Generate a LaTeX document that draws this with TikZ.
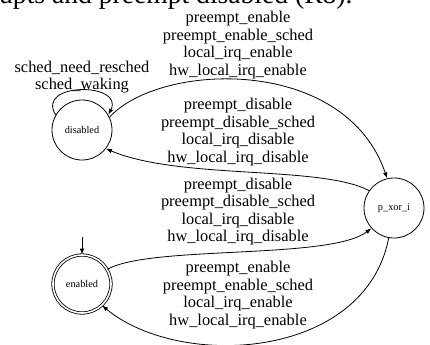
\documentclass[tikz,border=0pt]{standalone}
\usepackage{fontspec}
\setmainfont{Liberation Serif}
\usetikzlibrary{arrows.meta}
\begin{document}
\begin{tikzpicture}[x=1bp,y=-1bp,
  state/.style={circle,draw,line width=0.8bp,minimum size=60bp,inner sep=0pt,font=\fontsize{10.3bp}{12bp}\selectfont},
  accstate/.style={state,double,double distance=1.6bp,minimum size=58bp},
  edgelbl/.style={align=center,inner sep=0pt,font=\fontsize{16.4bp}{17.6bp}\selectfont},
  trans/.style={line width=0.8bp,-{Latex[length=6bp,width=4.5bp]}}]
\useasboundingbox (0,0) rectangle (430,345);
\clip (0,0) rectangle (430,345);
\node[anchor=base west,inner sep=0pt,font=\fontsize{27.6bp}{30bp}\selectfont] (cap) at (-1,3) {upts and preempt disabled (R8).};
\node[state] (dis) at (82,130) {disabled};
\node[accstate] (en) at (82,284) {enabled};
\node[state] (pxi) at (394,208) {p\_xor\_i};
\coordinate (init) at (82,237);
\draw[trans] (init) -- (en.north);
% self loop
\draw[trans] (dis.150) .. controls (35,82) and (125,82) .. (dis.30);
\node[edgelbl] (l0) at (82,77) {sched\_need\_resched\\sched\_waking};
% disabled -> p_xor_i
\draw[trans] (dis.25) .. controls (160,62) and (345,55) .. (pxi.103);
\node[edgelbl] (l1) at (238,45) {preempt\_enable\\preempt\_enable\_sched\\local\_irq\_enable\\hw\_local\_irq\_enable};
% p_xor_i -> disabled
\draw[trans] (pxi.145) .. controls (320,165) and (180,180) .. (dis.-38);
\node[edgelbl] (l2) at (238,132) {preempt\_disable\\preempt\_disable\_sched\\local\_irq\_disable\\hw\_local\_irq\_disable};
% enabled -> p_xor_i
\draw[trans] (en.30) .. controls (150,245) and (330,260) .. (pxi.-138);
\node[edgelbl] (l3) at (238,211.5) {preempt\_disable\\preempt\_disable\_sched\\local\_irq\_disable\\hw\_local\_irq\_disable};
% p_xor_i -> enabled
\draw[trans] (pxi.-100) .. controls (365,360) and (180,370) .. (en.-47);
\node[edgelbl] (l4) at (238,295) {preempt\_enable\\preempt\_enable\_sched\\local\_irq\_enable\\hw\_local\_irq\_enable};
\end{tikzpicture}
\end{document}
